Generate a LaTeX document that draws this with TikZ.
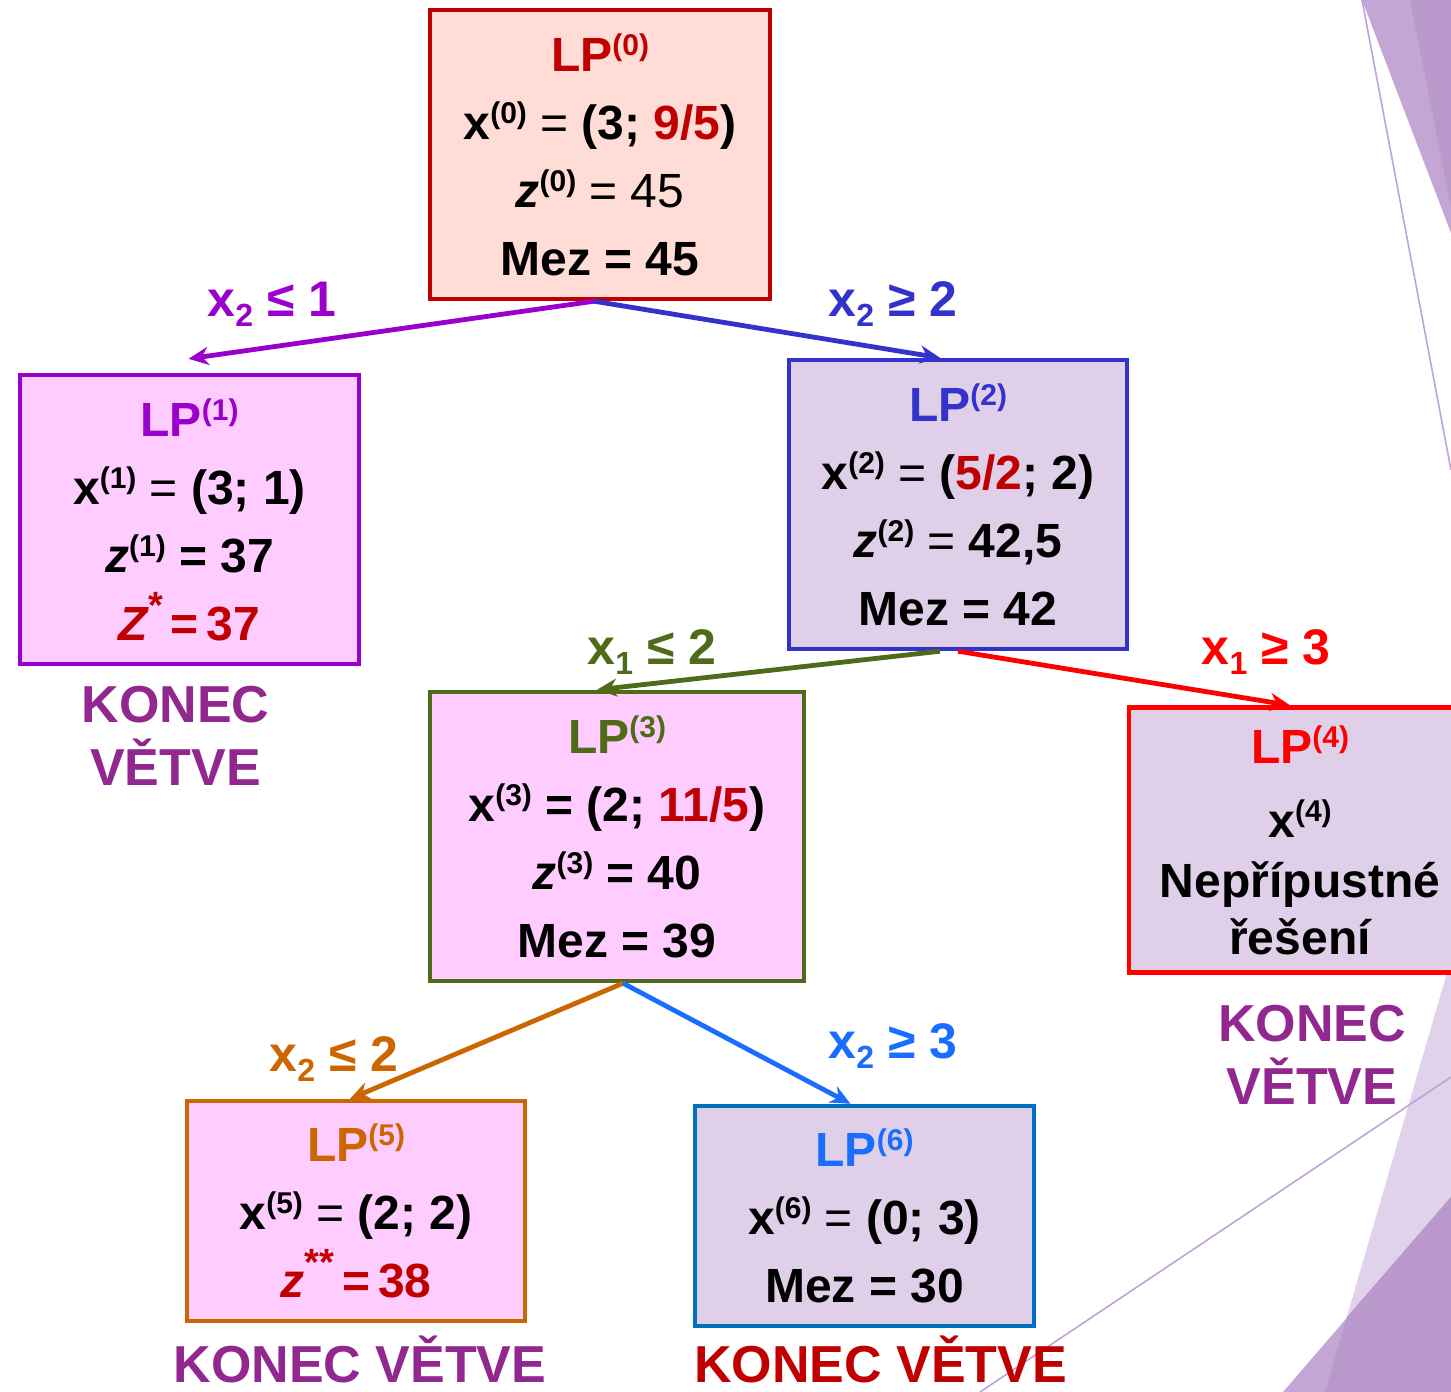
\documentclass[tikz,border=0pt]{standalone}
\usepackage{fontspec}
\setmainfont{Liberation Sans}
\usepackage{xcolor}
\usetikzlibrary{arrows.meta, positioning, backgrounds}
\definecolor{RootInk}{HTML}{C00000}
\definecolor{RootFill}{HTML}{FFDCD5}
\definecolor{LeftInk}{HTML}{9900CC}
\definecolor{PinkFill}{HTML}{FFCCFF}
\definecolor{RightInk}{HTML}{3333CC}
\definecolor{LilacFill}{HTML}{DFCFE8}
\definecolor{MidInk}{HTML}{4F6B1A}
\definecolor{CutInk}{HTML}{FF0000}
\definecolor{LowInk}{HTML}{CC6600}
\definecolor{SkyInk}{HTML}{0070C0}
\definecolor{SkyText}{HTML}{1A6EFF}
\definecolor{EndInk}{HTML}{92278F}
\definecolor{DecoPale}{HTML}{E0D2EA}
\definecolor{DecoLight}{HTML}{C4A6D5}
\definecolor{DecoDark}{HTML}{B998CC}
\definecolor{DecoLine}{HTML}{C0A2DA}
\newcommand{\up}[1]{\raisebox{8pt}{\fontsize{15}{15}\selectfont #1}}
\newcommand{\dn}[1]{\raisebox{-5pt}{\fontsize{16}{16}\selectfont #1}}
\newcommand{\st}[1]{\raisebox{11pt}{\fontsize{19}{19}\selectfont #1}}

\begin{document}
\begin{tikzpicture}[
    x=0.5pt, y=-0.5pt,
    lpbox/.style={
      rectangle,
      line width=2.2pt,
      align=center,
      inner sep=0pt,
      font=\fontsize{24}{34}\selectfont\bfseries,
    },
    cut/.style={
      anchor=base,
      inner sep=0pt,
      font=\fontsize{25}{30}\selectfont\bfseries,
    },
    konec/.style={
      align=center,
      inner sep=0pt,
      text=EndInk,
      font=\fontsize{26}{31.5}\selectfont\bfseries,
    },
    branch/.style={
      line width=2.4pt,
      -{Stealth[length=10pt, width=9pt]},
    },
  ]
    \path[use as bounding box] (0,0) rectangle (1451,1392);
    \clip (0,0) rectangle (1451,1392);

    % ---- slide corners ----
    \fill[DecoLight] (1362,0) -- (1451,0) -- (1451,233) -- cycle;
    \fill[DecoDark] (1410,0) -- (1451,0) -- (1451,207) -- cycle;
    \draw[DecoLine, line width=0.8pt] (1362,0) -- (1451,470);
    \fill[DecoPale] (1451,959) -- (1325,1392) -- (1451,1392) -- cycle;
    \fill[DecoLight] (1451,1197) -- (1283,1392) -- (1451,1392) -- cycle;
    \fill[DecoDark] (1451,1197) -- (1347,1317) -- (1325,1392) -- (1451,1392) -- cycle;
    \draw[DecoLine, line width=0.8pt] (980,1392) -- (1451,1077);

    % ---- LP(0) ----
    \node[lpbox, draw=RootInk, fill=RootFill,
      minimum width=170pt, minimum height=144.5pt] (lp0) at (600,154.5) {%
      {\color{RootInk}LP\up{(0)}}\\
      x\up{(0)} {\mdseries =} (3; {\color{RootInk}9/5})\\
      {\itshape z}\up{(0)} {\mdseries = 45}\\
      Mez = 45};

    % ---- first branching ----
    \node[lpbox, draw=LeftInk, fill=PinkFill,
      minimum width=169.5pt, minimum height=144.5pt] (lp1) at (189.5,519.5) {%
      {\color{LeftInk}LP\up{(1)}}\\
      x\up{(1)} {\mdseries =} (3; 1)\\
      {\itshape z}\up{(1)} = 37\\
      {\color{RootInk}{\itshape Z}\st{*}\,=\,37}};
    \node[lpbox, draw=RightInk, fill=LilacFill,
      minimum width=169pt, minimum height=144.5pt] (lp2) at (958,504.5) {%
      {\color{RightInk}LP\up{(2)}}\\
      x\up{(2)} {\mdseries =} ({\color{RootInk}5/2}; 2)\\
      {\itshape z}\up{(2)} {\mdseries =} 42,5\\
      Mez = 42};

    % ---- second branching ----
    \node[lpbox, draw=MidInk, fill=PinkFill,
      minimum width=187pt, minimum height=144.5pt] (lp3) at (617,836.5) {%
      {\color{MidInk}LP\up{(3)}}\\
      x\up{(3)} = (2; {\color{RootInk}11/5})\\
      {\itshape z}\up{(3)} = 40\\
      Mez = 39};
    \node[lpbox, draw=CutInk, fill=LilacFill,
      minimum width=171pt, minimum height=132.5pt] (lp4) at (1300,840) {%
      {\color{CutInk}LP\up{(4)}}\\[3pt]
      x\up{(4)}\\[-4pt]
      Nepřípustné\\[-5.5pt]
      řešení};

    % ---- third branching ----
    \node[lpbox, draw=LowInk, fill=PinkFill,
      minimum width=169pt, minimum height=110pt] (lp5) at (356,1211) {%
      {\color{LowInk}LP\up{(5)}}\\
      x\up{(5)} {\mdseries =} (2; 2)\\
      {\color{RootInk}{\itshape z}\st{**}\,=\,38}};
    \node[lpbox, draw=SkyInk, fill=LilacFill,
      minimum width=169.5pt, minimum height=110pt] (lp6) at (864.5,1216) {%
      {\color{SkyText}LP\up{(6)}}\\
      x\up{(6)} {\mdseries =} (0; 3)\\
      Mez = 30};

    % ---- branches ----
    \draw[branch, LeftInk] ([xshift=-3pt]lp0.south) -- ([xshift=-0.5pt,yshift=7pt]lp1.north);
    \draw[branch, RightInk] ([xshift=-3pt]lp0.south) -- ([xshift=-9pt]lp2.north);
    \draw[branch, MidInk] ([xshift=-9pt]lp2.south) -- ([xshift=-10pt]lp3.north);
    \draw[branch, CutInk] (lp2.south) -- ([xshift=-5pt]lp4.north);
    \draw[branch, LowInk] ([xshift=3pt]lp3.south) -- ([xshift=-3pt]lp5.north);
    \draw[branch, SkyText] ([xshift=3pt]lp3.south) -- ([xshift=-7pt]lp6.north);

    \node[cut, text=LeftInk] (b1) at (272,316) {x\dn{2} ≤ 1};
    \node[cut, text=RightInk] (b2) at (893,316) {x\dn{2} ≥ 2};
    \node[cut, text=MidInk] (b3) at (652,664) {x\dn{1} ≤ 2};
    \node[cut, text=CutInk] (b4) at (1266,664) {x\dn{1} ≥ 3};
    \node[cut, text=LowInk] (b5) at (334,1071) {x\dn{2} ≤ 2};
    \node[cut, text=SkyText] (b6) at (893,1058) {x\dn{2} ≥ 3};

    % ---- branch ends ----
    \node[konec, below=10pt of lp1, xshift=-7pt] (e1) {KONEC\\VĚTVE};
    \node[konec, below=15pt of lp4, xshift=6pt] (e4) {KONEC\\VĚTVE};
    \node[konec, below=6pt of lp5, xshift=2pt] (e5) {KONEC VĚTVE};
    \node[konec, text=RootInk, below=3.5pt of lp6, xshift=8pt] (e6) {KONEC VĚTVE};
\end{tikzpicture}
\end{document}
